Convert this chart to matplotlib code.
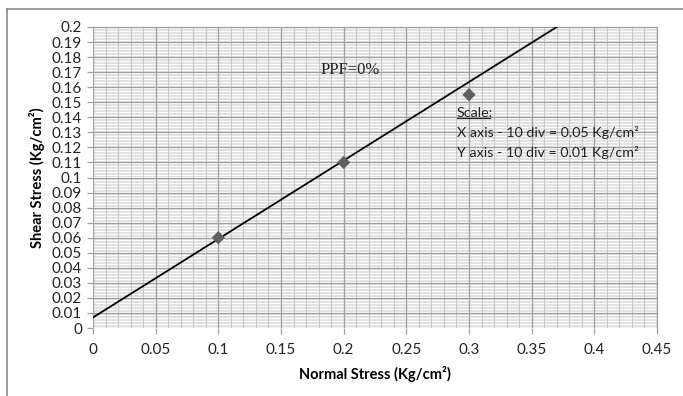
import matplotlib
matplotlib.use("Agg")
import matplotlib.pyplot as plt
from matplotlib.lines import Line2D
import numpy as np

# Data
normal_stress = [0.1, 0.2, 0.3]
shear_stress = [0.06, 0.11, 0.155]
line_x = [0.0, 0.37]
line_y = [0.007, 0.2]
x_ticks = [0, 0.05, 0.1, 0.15, 0.2, 0.25, 0.3, 0.35, 0.4, 0.45]
x_tick_labels = ["0", "0.05", "0.1", "0.15", "0.2", "0.25", "0.3", "0.35", "0.4", "0.45"]
y_ticks = [round(i * 0.01, 2) for i in range(21)]
y_tick_labels = ["0"] + ["%g" % v for v in y_ticks[1:]]

W, H = 683, 396
fig = plt.figure(figsize=(W / 100, H / 100), dpi=100)
font = ["Lato", "DejaVu Sans"]
plt.rcParams["font.family"] = font

ax = fig.add_axes([93 / W, 1 - 328 / H, (657 - 93) / W, (328 - 27) / H])
ax.set_xlim(0, 0.45)
ax.set_ylim(0, 0.2)

# minor grid
for v in np.arange(0, 0.2001, 0.001):
    ax.axhline(v, color="#dcdcdc", lw=0.6, zorder=0)
for v in np.arange(0, 0.4501, 0.01):
    ax.axvline(v, color="#c8c8c8", lw=0.8, zorder=0)
# major grid
for v in y_ticks:
    ax.axhline(v, color="#a0a0a0", lw=0.9, zorder=0.5)
for v in x_ticks:
    ax.axvline(v, color="#a0a0a0", lw=0.9, zorder=0.5)

for s in ["left", "bottom"]:
    ax.spines[s].set_visible(False)
for s in ["top", "right"]:
    ax.spines[s].set_color("#a0a0a0")
    ax.spines[s].set_linewidth(0.9)

ax.set_xticks(x_ticks)
ax.set_xticklabels(x_tick_labels)
ax.set_yticks(y_ticks)
ax.set_yticklabels(y_tick_labels)
ax.tick_params(axis="both", direction="out", length=4, color="#a0a0a0", width=0.9,
               labelsize=11, labelcolor="#222222")
ax.tick_params(axis="x", pad=7)
ax.tick_params(axis="y", pad=4)

ax.plot(line_x, line_y, color="black", lw=1.3, zorder=3)
ax.scatter(normal_stress, shear_stress, marker="D", s=46, color="#5f5f5f", zorder=4, edgecolors="none")

ax.set_xlabel("Normal Stress (Kg/cm\u00b2)", fontsize=10.5, fontweight="bold", labelpad=6)
ax.set_ylabel("Shear Stress (Kg/cm\u00b2)", fontsize=10.5, fontweight="bold", labelpad=5)

ax.text(0.205, 0.1714, "PPF=0%", family=["Liberation Serif", "DejaVu Serif"], fontsize=12,
        ha="center", va="center", color="#222222", zorder=5)
tx = 0.2904
t = ax.text(tx, 0.1429, "Scale:", fontsize=10.3, ha="left", va="center", color="#222222", zorder=5)
ax.text(tx, 0.1296, "X axis - 10 div = 0.05 Kg/cm\u00b2", fontsize=10.3, ha="left", va="center",
        color="#222222", zorder=5)
ax.text(tx, 0.1163, "Y axis - 10 div = 0.01 Kg/cm\u00b2", fontsize=10.3, ha="left", va="center",
        color="#222222", zorder=5)

# underline "Scale"
fig.canvas.draw()
r = fig.canvas.get_renderer()
bb = t.get_window_extent(r)
inv = ax.transData.inverted()
(x0, y0) = inv.transform((bb.x0, bb.y0 + 1))
(x1, _) = inv.transform((bb.x1 - 3, bb.y0 + 1))
ax.plot([x0, x1], [y0, y0], color="#222222", lw=0.8, zorder=5)

# outer chart frame
fig.add_artist(Line2D([7 / W, 7 / W], [0, 1 - 9 / H], transform=fig.transFigure, color="#8a8a8a", lw=1.2))
fig.add_artist(Line2D([7 / W, 1], [1 - 9 / H, 1 - 9 / H], transform=fig.transFigure, color="#8a8a8a", lw=1.2))

fig.savefig("out.png", dpi=100)
